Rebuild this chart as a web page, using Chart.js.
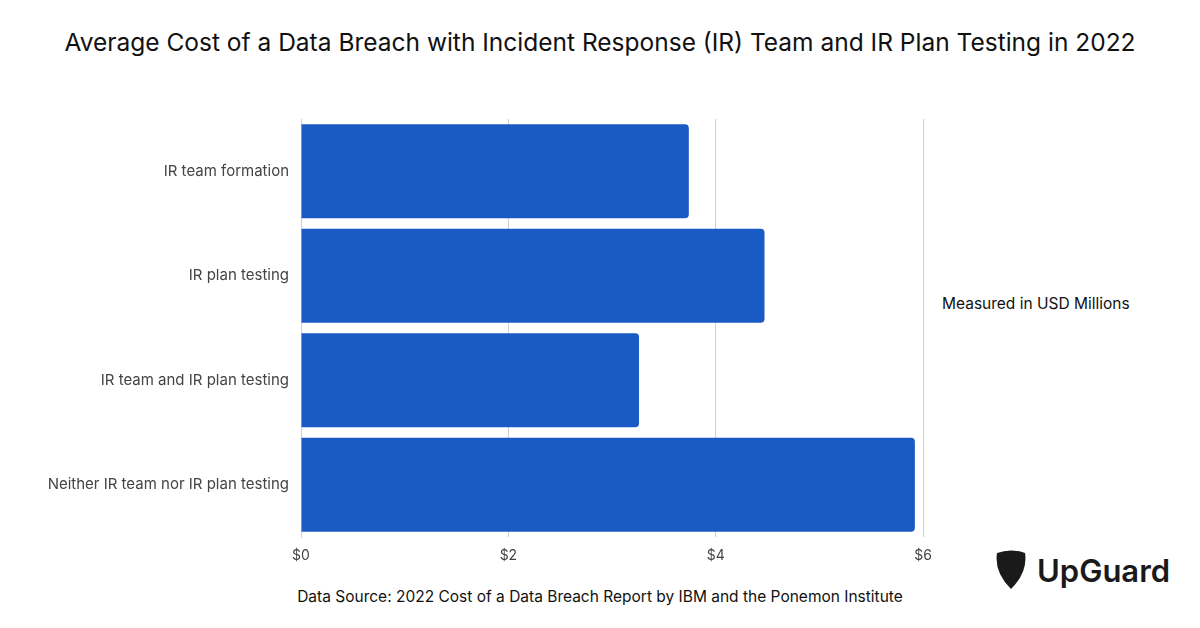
<!DOCTYPE html>
<html><head><meta charset="utf-8">
<script src="https://cdn.jsdelivr.net/npm/chart.js@4"></script>
<style>
body{margin:0;width:1200px;height:628px;background:#fff;font-family:Inter,sans-serif;position:relative;overflow:hidden}
#t{position:absolute;top:27px;left:0;width:1200px;text-align:center;font-size:24.5px;color:#111}
#w{position:absolute;left:0;top:106px;width:942px;height:461px}
#m{position:absolute;left:942px;top:294px;font-size:15.5px;color:#111}
#s{position:absolute;top:587px;left:0;width:1200px;text-align:center;font-size:15.5px;color:#111}
#l{position:absolute;left:993px;top:550px;display:flex;align-items:center;gap:8px;font-size:31px;font-weight:600;color:#1a1a1a}
</style></head><body>
<div id="t">Average Cost of a Data Breach with Incident Response (IR) Team and IR Plan Testing in 2022</div>
<div id="w"><canvas id="c"></canvas></div>
<div id="m">Measured in USD Millions</div>
<div id="s">Data Source: 2022 Cost of a Data Breach Report by IBM and the Ponemon Institute</div>
<div id="l"><svg width="36" height="40" viewBox="0 0 36 40"><path d="M4 3 Q18 -2 32 3 Q35 22 18 39 Q1 22 4 3Z" fill="#1a1a1a"/></svg>UpGuard</div>
<script>
const categories=["IR team formation","IR plan testing","IR team and IR plan testing","Neither IR team nor IR plan testing"];
const costs=[3.74,4.47,3.26,5.92];
const ticks=["$0","$2","$4","$6"];
new Chart(document.getElementById('c'),{type:'bar',
data:{labels:categories,datasets:[{data:costs,backgroundColor:'#1a5ac4',barPercentage:0.9,categoryPercentage:1,borderRadius:{topRight:4,bottomRight:4},borderSkipped:false}]},
options:{indexAxis:'y',responsive:true,maintainAspectRatio:false,animation:false,
layout:{padding:{right:12,top:0,left:0,bottom:0}},
plugins:{legend:{display:false},tooltip:{enabled:false}},
scales:{
x:{min:0,max:6,afterFit(a){a.height=30},grid:{color:'#d0d0d0',drawTicks:false},border:{display:false},
ticks:{stepSize:2,padding:10,color:'#444',font:{family:'Inter',size:14},callback:(v,i)=>ticks[i]}},
y:{afterFit(a){a.width=301},grid:{display:false},border:{display:true,color:'#d0d0d0'},
ticks:{padding:4,color:'#444',font:{family:'Inter',size:15}}}
}}});
</script></body></html>
